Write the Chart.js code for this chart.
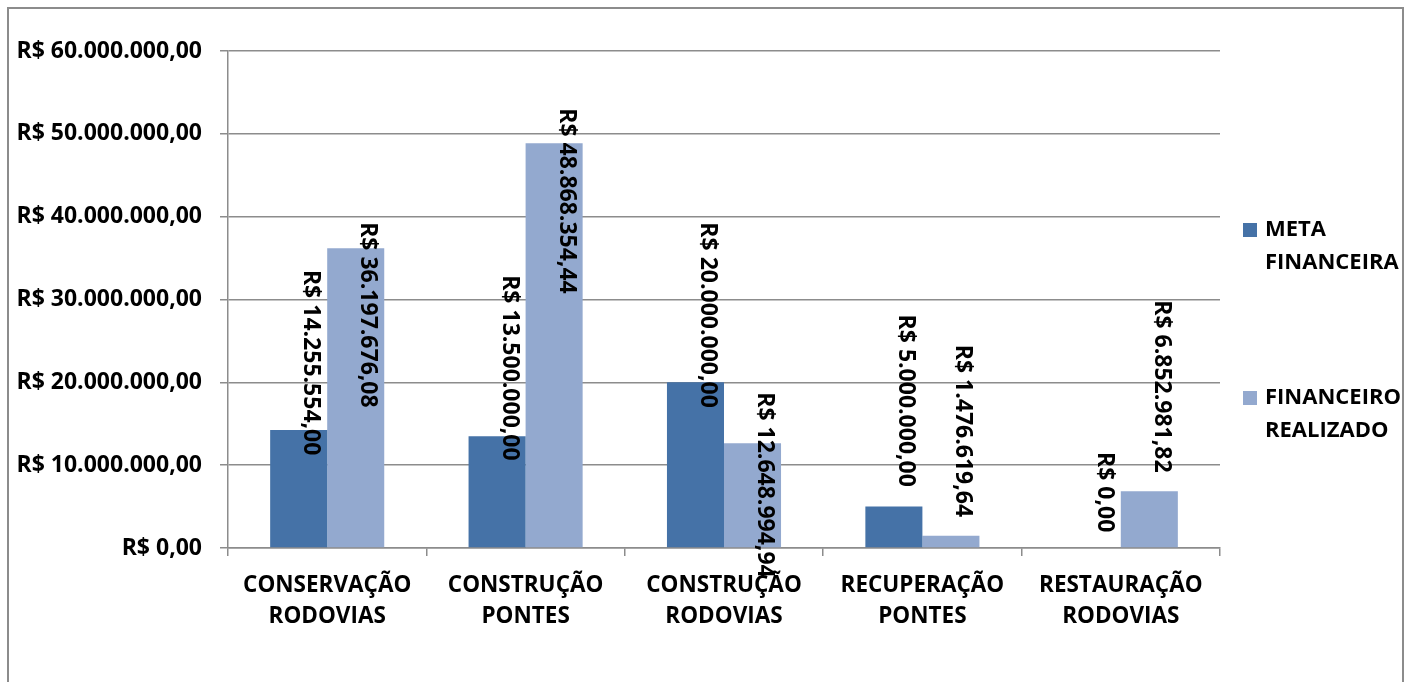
<!DOCTYPE html>
<html>
<head>
<meta charset="utf-8">
<script src="https://cdn.jsdelivr.net/npm/chart.js@4"></script>
<style>
  body { margin: 0; background: #fff; overflow: hidden; }
  #wrap { position: relative; width: 1427px; height: 682px; }
  #frame { position: absolute; left: 7px; top: 7px; width: 1397px; height: 720px; border: 2px solid #8c8c8c; box-sizing: border-box; }
</style>
</head>
<body>
<div id="wrap">
  <div id="frame"></div>
  <canvas id="grafico"></canvas>
</div>
<script>
// categorias e valores
const categorias = [
  ['CONSERVAÇÃO', 'RODOVIAS'],
  ['CONSTRUÇÃO', 'PONTES'],
  ['CONSTRUÇÃO', 'RODOVIAS'],
  ['RECUPERAÇÃO', 'PONTES'],
  ['RESTAURAÇÃO', 'RODOVIAS']
];
const metaFinanceira = [14255554.00, 13500000.00, 20000000.00, 5000000.00, 0];
const financeiroRealizado = [36197676.08, 48868354.44, 12648994.94, 1476619.64, 6852981.82];
const yTicks = [0, 10000000, 20000000, 30000000, 40000000, 50000000, 60000000];

const FONTE = '"Open Sans", "DejaVu Sans", sans-serif';

// formata em reais (R$ 1.234,56)
function reais(v) {
  const partes = v.toFixed(2).split('.');
  return 'R$ ' + partes[0].replace(/\B(?=(\d{3})+(?!\d))/g, '.') + ',' + partes[1];
}

// rótulos de dados verticais (deslocamento do topo do texto em relação ao topo da barra)
const rotulosPlugin = {
  id: 'rotulos',
  afterDatasetsDraw(chart, args, opts) {
    const ctx = chart.ctx;
    ctx.save();
    ctx.font = 'bold 23px ' + FONTE;
    ctx.fillStyle = '#000';
    ctx.textAlign = 'left';
    ctx.textBaseline = 'middle';
    chart.data.datasets.forEach((ds, i) => {
      chart.getDatasetMeta(i).data.forEach((bar, j) => {
        ctx.save();
        ctx.translate(bar.x + 12, bar.y + opts.deslocamentos[i][j]);
        ctx.rotate(Math.PI / 2);
        ctx.fillText(reais(ds.data[j]), 0, 0);
        ctx.restore();
      });
    });
    ctx.restore();
  }
};

// legenda à direita com rótulos em duas linhas
const legendaPlugin = {
  id: 'legendaDireita',
  afterDraw(chart) {
    const ctx = chart.ctx;
    const x = chart.chartArea.right + 23;
    const posY = [230, 398];
    ctx.save();
    ctx.font = 'bold 22px ' + FONTE;
    ctx.textAlign = 'left';
    ctx.textBaseline = 'middle';
    chart.data.datasets.forEach((ds, i) => {
      ctx.fillStyle = ds.backgroundColor;
      ctx.fillRect(x, posY[i] - 7, 14, 14);
      ctx.fillStyle = '#000';
      ds.label.forEach((linha, k) => {
        ctx.fillText(linha, x + 22, posY[i] + k * 33);
      });
    });
    ctx.restore();
  }
};

const ctx = document.getElementById('grafico').getContext('2d');
new Chart(ctx, {
  type: 'bar',
  data: {
    labels: categorias,
    datasets: [
      {
        label: ['META', 'FINANCEIRA'],
        data: metaFinanceira,
        backgroundColor: '#4572A7',
        categoryPercentage: 0.575,
        barPercentage: 1.0
      },
      {
        label: ['FINANCEIRO', 'REALIZADO'],
        data: financeiroRealizado,
        backgroundColor: '#93A9CF',
        categoryPercentage: 0.575,
        barPercentage: 1.0
      }
    ]
  },
  options: {
    responsive: true,
    maintainAspectRatio: false,
    animation: false,
    layout: { padding: { top: 51, right: 207, bottom: 0, left: 0 } },
    plugins: {
      legend: { display: false },
      tooltip: { enabled: false },
      rotulos: {
        deslocamentos: [
          [-160, -161, -160, -192, -96],
          [-26, -35, -51, -191, -191]
        ]
      }
    },
    scales: {
      x: {
        grid: { display: true, drawOnChartArea: false, tickLength: 8, color: '#8c8c8c', lineWidth: 1.5 },
        border: { color: '#8c8c8c', width: 1.5 },
        ticks: {
          color: '#000',
          padding: 14,
          maxRotation: 0,
          font: { family: FONTE, size: 22.5, weight: 'bold', lineHeight: 1.38 }
        },
        afterFit(scale) { scale.height = 134; }
      },
      y: {
        min: 0,
        max: 60000000,
        afterBuildTicks(scale) { scale.ticks = yTicks.map(v => ({ value: v })); },
        grid: { color: '#8c8c8c', lineWidth: 1.5, tickLength: 8 },
        border: { color: '#8c8c8c', width: 1.5 },
        ticks: {
          color: '#000',
          padding: 18,
          callback: v => reais(v),
          font: { family: FONTE, size: 23, weight: 'bold' }
        },
        afterFit(scale) { scale.width = 228; }
      }
    }
  },
  plugins: [rotulosPlugin, legendaPlugin]
});
</script>
</body>
</html>
